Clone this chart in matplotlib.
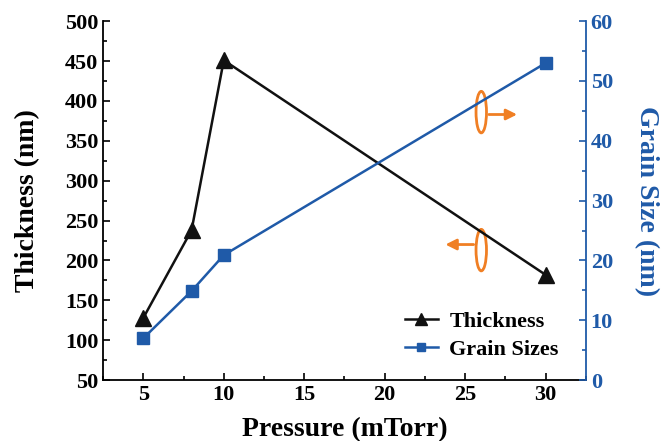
import matplotlib
matplotlib.use('Agg')
import matplotlib.pyplot as plt
from matplotlib.patches import Ellipse
from matplotlib.ticker import MultipleLocator

pressure = [5, 8, 10, 30]
thickness = [128, 238, 451, 182]
grain_size = [7.0, 14.9, 20.9, 53.0]

blue = '#1f5aa8'
plt.rcParams['font.family'] = 'Liberation Serif'
plt.rcParams['font.weight'] = 'bold'

fig = plt.figure(figsize=(6.65, 4.41), dpi=100)
ax = fig.add_axes([0.155, 0.138, 0.726, 0.814])
ax2 = ax.twinx()

l1, = ax.plot(pressure, thickness, color='#111111', marker='^', markersize=12, lw=1.8, label='Thickness')
l2, = ax2.plot(pressure, grain_size, color=blue, marker='s', markersize=8.5, lw=1.8, label='Grain Sizes')

ax.set_xlim(2.5, 32.5)
ax.set_ylim(50, 500)
ax2.set_ylim(0, 60)
ax.xaxis.set_major_locator(MultipleLocator(5))
ax.xaxis.set_minor_locator(MultipleLocator(2.5))
ax.yaxis.set_major_locator(MultipleLocator(50))
ax.yaxis.set_minor_locator(MultipleLocator(25))
ax2.yaxis.set_major_locator(MultipleLocator(10))
ax2.yaxis.set_minor_locator(MultipleLocator(5))

ax.tick_params(which='both', direction='in', top=False, labelsize=16, width=1.2)
ax.tick_params(which='major', length=5)
ax.tick_params(which='minor', length=3)
ax2.tick_params(which='both', direction='in', colors=blue, labelsize=16, width=1.2)
ax2.tick_params(which='major', length=5)
ax2.tick_params(which='minor', length=3)
for s in ['left', 'bottom']:
    ax.spines[s].set_linewidth(1.3)
ax.spines['top'].set_visible(False)
ax2.spines['top'].set_visible(False)
ax2.spines['left'].set_visible(False)
ax2.spines['bottom'].set_visible(False)
ax2.spines['right'].set_color(blue)
ax2.spines['right'].set_linewidth(1.3)
ax.spines['right'].set_visible(False)

ax.set_xlabel('Pressure (mTorr)', fontsize=20, fontweight='bold', labelpad=9)
ax.set_ylabel('Thickness (nm)', fontsize=20, fontweight='bold', labelpad=18)
ax2.set_ylabel('Grain Size (nm)', fontsize=20, fontweight='bold', color=blue, rotation=270, labelpad=33)

for lab in ax.get_xticklabels() + ax.get_yticklabels() + ax2.get_yticklabels():
    lab.set_fontweight('bold')

ax.legend(handles=[l1, l2], loc='lower right', bbox_to_anchor=(0.985, 0.0), frameon=False,
          handlelength=1.5, handletextpad=0.5, labelspacing=0.35, markerscale=0.7,
          prop={'weight': 'bold', 'size': 16})

orange = '#f07f24'
ax.add_patch(Ellipse((26.0, 386), 0.65, 52, fill=False, ec=orange, lw=2))
ax.annotate('', xy=(28.4, 383), xytext=(26.3, 383),
            arrowprops=dict(arrowstyle='-|>', color=orange, lw=2, mutation_scale=16))
ax.add_patch(Ellipse((26.0, 213), 0.65, 52, fill=False, ec=orange, lw=2))
ax.annotate('', xy=(23.6, 220), xytext=(25.7, 220),
            arrowprops=dict(arrowstyle='-|>', color=orange, lw=2, mutation_scale=16))

fig.savefig('out.png', dpi=100)
